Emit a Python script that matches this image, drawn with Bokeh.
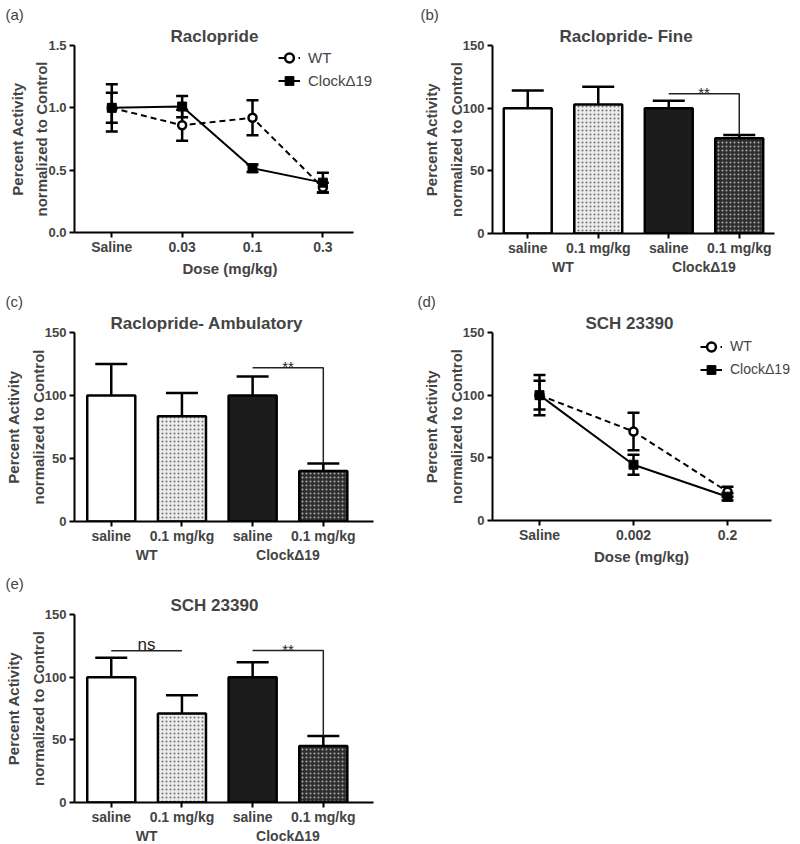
import numpy as np
from bokeh.plotting import figure
from bokeh.layouts import column, row
from bokeh.models import (Range1d, FixedTicker, LinearAxis, Whisker, TeeHead,
                          ColumnDataSource, Legend, LegendItem, Title, Spacer,
                          PrintfTickFormatter)
from bokeh.embed import file_html
from bokeh.resources import INLINE
from bokeh.core.properties import value

FONT = "Liberation Sans"

# ---------------- data ----------------
doses_a = ["Saline", "0.03", "0.1", "0.3"]
wt_a = [1.00, 0.86, 0.92, 0.36]
wt_a_sem = [0.12, 0.125, 0.14, 0.04]
clock_a = [1.00, 1.01, 0.515, 0.40]
clock_a_sem = [0.19, 0.085, 0.03, 0.08]

doses_d = ["Saline", "0.002", "0.2"]
wt_d = [100, 71, 23]
wt_d_sem = [16, 15, 4]
clock_d = [100, 44.5, 19]
clock_d_sem = [11.5, 8, 3]

bar_labels = ["saline", "0.1 mg/kg", "saline", "0.1 mg/kg"]
bar_groups = ["WT", "WT", "ClockΔ19", "ClockΔ19"]

fine_mean = [100, 103, 100, 76]
fine_sem = [14, 14, 6, 2.6]
amb_mean = [100, 83.5, 100, 40]
amb_sem = [25, 18.5, 15, 6]
sch_mean = [100, 71, 100, 45]
sch_sem = [15.5, 14.5, 12, 8]

# significance brackets: (bar i, bar j, bracket height, label, drop to bar j)
fine_sig = [(2, 3, 111.5, "**", True)]
amb_sig = [(2, 3, 122, "**", True)]
sch_sig = [(0, 1, 121, "ns", False), (2, 3, 121.3, "**", True)]

# ---------------- styles ----------------
BAR_FILL = ["white", "#ececec", "#1c1c1c", "#2e2e2e"]
BAR_HATCH = [" ", "dot", " ", "dot"]
BAR_HCOLOR = ["black", "#707070", "black", "#b0b0b0"]
SIG_OFFSET = {"**": -1, "ns": -6}
SIG_SIZE = {"**": "15px", "ns": "17px"}


def base_fig(fw, fh, borders, xr, yr, title, title_off, tag_text, tag_off):
    left, top, right, bottom = borders
    p = figure(frame_width=fw, frame_height=fh, x_range=xr, y_range=yr,
               output_backend="svg", toolbar_location=None, title=None,
               min_border_left=left, min_border_top=top,
               min_border_right=right, min_border_bottom=bottom,
               outline_line_color=None)
    p.add_layout(Title(text=title, align="left", offset=title_off, standoff=0,
                       text_font=FONT, text_font_size="17px", text_font_style="bold"),
                 "above")
    p.add_layout(Title(text=tag_text, align="left", offset=tag_off, standoff=3,
                       text_font=FONT, text_font_size="15px", text_font_style="normal"),
                 "above")
    p.grid.visible = False
    for ax in p.axis:
        ax.axis_line_width = 2
        ax.major_tick_line_width = 2
        ax.major_tick_in = 0
        ax.major_tick_out = 5
        ax.minor_tick_line_color = None
        ax.major_label_text_font = FONT
        ax.major_label_text_font_style = "bold"
        ax.axis_label_text_font = FONT
        ax.axis_label_text_font_style = "bold"
        ax.axis_label_text_font_size = "15px"
        ax.major_label_standoff = 3
    p.xaxis.major_label_text_font_size = "14px"
    p.xaxis.major_label_standoff = 1
    p.yaxis.major_label_text_font_size = "13px"
    p.yaxis.axis_label = "Percent Activity\nnormalized to Control"
    p.yaxis.axis_label_text_line_height = 1.45
    p.yaxis.axis_label_standoff = -5
    p.xaxis.axis_label_standoff = 2
    return p


def line_panel(fw, fh, borders, xr, xbounds, yr, yticks, yfmt, title, title_off,
               doses, wt, wt_sem, ck, ck_sem, legend_loc, legend_size, tag_text, tag_off):
    p = base_fig(fw, fh, borders, xr, yr, title, title_off, tag_text, tag_off)
    x = list(range(len(doses)))
    p.xaxis.ticker = FixedTicker(ticks=x)
    p.xaxis.major_label_overrides = {i: d for i, d in zip(x, doses)}
    p.xaxis.axis_label = "Dose (mg/kg)"
    p.xaxis.bounds = xbounds
    p.yaxis.ticker = FixedTicker(ticks=yticks)
    p.yaxis.formatter = PrintfTickFormatter(format=yfmt)

    wt_line = p.line(x, wt, line_color="black", line_width=2, line_dash="6 4")
    ck_line = p.line(x, ck, line_color="black", line_width=2)
    for vals, sems in [(wt, wt_sem), (ck, ck_sem)]:
        src = ColumnDataSource(dict(base=x, upper=np.add(vals, sems),
                                    lower=np.subtract(vals, sems)))
        p.add_layout(Whisker(source=src, base="base", upper="upper", lower="lower",
                             line_width=2.5, line_color="black",
                             upper_head=TeeHead(size=12, line_width=2.5, line_color="black"),
                             lower_head=TeeHead(size=12, line_width=2.5, line_color="black")))
    wt_pts = p.scatter(x, wt, marker="circle", size=8, fill_color="white",
                       line_color="black", line_width=2.5)
    ck_pts = p.scatter(x, ck, marker="square", size=9, fill_color="black",
                       line_color="black", line_width=1)
    legend = Legend(items=[LegendItem(label="WT", renderers=[wt_line, wt_pts]),
                           LegendItem(label="ClockΔ19", renderers=[ck_line, ck_pts])],
                    location=legend_loc, border_line_color=None,
                    background_fill_alpha=0, padding=0, margin=0, spacing=0,
                    label_text_font=FONT, label_text_font_size=legend_size,
                    glyph_width=22, glyph_height=23, label_height=23,
                    label_standoff=8)
    p.add_layout(legend)
    return p


def bar_panel(fw, fh, borders, xr, title, title_off, means, sems, sig, tag_text, tag_off):
    p = base_fig(fw, fh, borders, xr, Range1d(0, 150), title, title_off, tag_text, tag_off)
    x = list(range(len(means)))
    p.xaxis.ticker = FixedTicker(ticks=x)
    p.xaxis.major_label_overrides = {i: l for i, l in zip(x, bar_labels)}
    p.yaxis.ticker = FixedTicker(ticks=[0, 50, 100, 150])
    src = ColumnDataSource(dict(x=x, top=means, fill=BAR_FILL, hatch=BAR_HATCH,
                                hcolor=BAR_HCOLOR))
    wsrc = ColumnDataSource(dict(base=x, upper=np.add(means, sems), lower=means))
    p.add_layout(Whisker(source=wsrc, base="base", upper="upper", lower="lower",
                         line_width=2.5, line_color="black", lower_head=None,
                         upper_head=TeeHead(size=32, line_width=2.5, line_color="black")))
    p.vbar(x="x", top="top", bottom=0, width=0.68, source=src, fill_color="fill",
           line_color="black", line_width=2.5, hatch_pattern="hatch",
           hatch_color="hcolor", hatch_scale=4, hatch_weight=1)
    # group labels axis
    groups = list(dict.fromkeys(bar_groups))
    gx = [float(np.mean([xi for xi, g in zip(x, bar_groups) if g == grp])) for grp in groups]
    ax2 = LinearAxis(ticker=FixedTicker(ticks=gx),
                     major_label_overrides={c: g for c, g in zip(gx, groups)},
                     axis_line_color=None, major_tick_line_color=None,
                     minor_tick_line_color=None, major_tick_out=0, major_tick_in=0,
                     major_label_standoff=0, major_label_text_font=FONT,
                     major_label_text_font_style="bold", major_label_text_font_size="14px")
    p.add_layout(ax2, "below")
    for (i, j, hgt, lab, drop) in sig:
        xs = [x[i], x[j]]
        ys = [hgt, hgt]
        if drop:
            xs.append(x[j])
            ys.append(means[j] + sems[j])
        p.line(xs, ys, line_color="#222222", line_width=1.5)
        p.text(x=[(x[i] + x[j]) / 2], y=[hgt], text=[lab], text_font=value(FONT),
               text_font_size=SIG_SIZE[lab], text_align="center",
               text_baseline="alphabetic", y_offset=SIG_OFFSET[lab], text_color="#222222")
    return p


# borders: (left, top, right, bottom)
pa = line_panel(311, 187, (74, 45, 15, 47), Range1d(-0.53, 3.89), (-0.53, 3.44),
                Range1d(0, 1.5), [0, 0.5, 1.0, 1.5], "%.1f", "Raclopride", 96,
                doses_a, wt_a, wt_a_sem, clock_a, clock_a_sem, (204, 140.5), "15px",
                "(a)", -69)
pb = bar_panel(282, 188, (92, 45, 24, 46), Range1d(-0.5, 3.5), "Raclopride- Fine", 67,
               fine_mean, fine_sem, fine_sig, "(b)", -72)
pc = bar_panel(299, 189, (74, 53, 27, 46), Range1d(-0.52, 3.71), "Raclopride- Ambulatory", 36,
               amb_mean, amb_sem, amb_sig, "(c)", -69)
pd = line_panel(298, 188, (92, 53, 8, 47), Range1d(-0.5, 2.67), (-0.5, 2.47),
                Range1d(0, 150), [0, 50, 100, 150], "%d", "SCH 23390", 93,
                doses_d, wt_d, wt_d_sem, clock_d, clock_d_sem, (208, 139.5), "14px",
                "(d)", -75)
pe = bar_panel(299, 188, (74, 47, 27, 39), Range1d(-0.52, 3.71), "SCH 23390", 96,
               sch_mean, sch_sem, sch_sig, "(e)", -69)

layout = column(row(pa, pb), row(pc, pd), row(pe, Spacer(width=398, height=274)))

open("out.html", "w").write(file_html(layout, INLINE))
